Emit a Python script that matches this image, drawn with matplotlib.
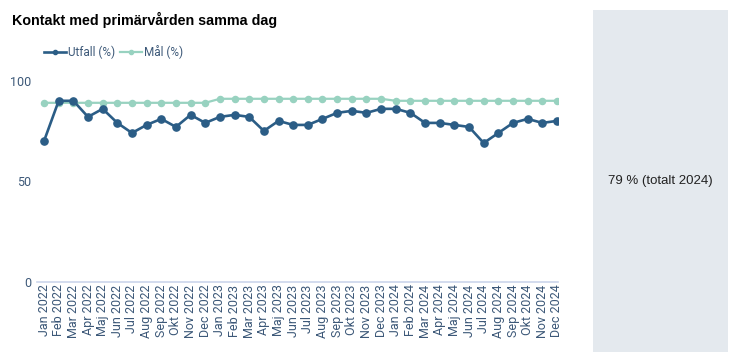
import matplotlib
matplotlib.use("Agg")
import matplotlib.pyplot as plt
from matplotlib.lines import Line2D
from matplotlib.patches import Rectangle

# ── Data ──────────────────────────────────────────────────────────
months = ["Jan", "Feb", "Mar", "Apr", "Maj", "Jun",
          "Jul", "Aug", "Sep", "Okt", "Nov", "Dec"]
years = [2022, 2023, 2024]
labels = [f"{m} {y}" for y in years for m in months]

utfall = [70, 90, 90, 82, 86, 79, 74, 78, 81, 77, 83, 79,
          82, 83, 82, 75, 80, 78, 78, 81, 84, 85, 84, 86,
          86, 84, 79, 79, 78, 77, 69, 74, 79, 81, 79, 80]
mal = [89, 89, 89, 89, 89, 89, 89, 89, 89, 89, 89, 89,
       91, 91, 91, 91, 91, 91, 91, 91, 91, 91, 91, 91,
       90, 90, 90, 90, 90, 90, 90, 90, 90, 90, 90, 90]

y_ticks = [0, 50, 100]
title = "Kontakt med primärvården samma dag"
summary = "79 % (totalt 2024)"

C_UTFALL = "#2b5d86"
C_MAL = "#98d2c0"
C_TEXT = "#3c5878"
C_AXIS = "#ccd6eb"
C_PANEL = "#e4e9ee"

W, H = 734, 352
fig = plt.figure(figsize=(W / 100, H / 100), dpi=100, facecolor="white")

# ── Right summary panel ───────────────────────────────────────────
fig.patches.append(Rectangle((593 / W, 0), (728 - 593) / W, 1 - 10 / H,
                             transform=fig.transFigure, facecolor=C_PANEL,
                             edgecolor="none", zorder=0))
fig.text(660 / W, 1 - 181 / H, summary, ha="center", va="center",
         fontsize=9.5, family="Liberation Sans", color="#222222")

fig.text(12 / W, 1 - 20 / H, title, ha="left", va="center",
         fontsize=10.3, fontweight="bold", family="Liberation Sans", color="black")

# ── Chart ─────────────────────────────────────────────────────────
ax = fig.add_axes([37 / W, 1 - 281.7 / H, (558 - 37) / W, (281.7 - 60.6) / H])
x = list(range(len(labels)))
ax.plot(x, mal, color=C_MAL, lw=1.6, marker="o", ms=4.4, zorder=2)
ax.plot(x, utfall, color=C_UTFALL, lw=1.9, marker="o", ms=5.2, zorder=3)

ax.set_xlim(-0.48, 35.07)
ax.set_ylim(0, 110)
ax.set_yticks(y_ticks)
ax.set_yticklabels([str(v) for v in y_ticks], fontsize=9, family="Roboto", color=C_TEXT)
ax.set_xticks(x)
ax.set_xticklabels(labels, rotation=90, fontsize=9, family="Roboto", color=C_TEXT)
ax.tick_params(axis="both", length=0)
ax.tick_params(axis="y", pad=4)
ax.tick_params(axis="x", pad=2)
for side in ("top", "left", "right"):
    ax.spines[side].set_visible(False)
ax.spines["bottom"].set_color(C_AXIS)
ax.spines["bottom"].set_linewidth(1.2)
ax.set_facecolor("none")

handles = [
    Line2D([], [], color=C_UTFALL, lw=1.9, marker="o", ms=3),
    Line2D([], [], color=C_MAL, lw=1.6, marker="o", ms=3),
]
fig.legend(handles, ["Utfall (%)", "Mål (%)"], loc="center left",
           bbox_to_anchor=(33 / W, 1 - 52 / H), ncol=2, frameon=False,
           handlelength=1.9, handletextpad=0.15, columnspacing=0.4,
           prop={"family": "Roboto", "size": 8.5}, labelcolor=C_TEXT)

fig.savefig("out.png", dpi=100, facecolor="white")
